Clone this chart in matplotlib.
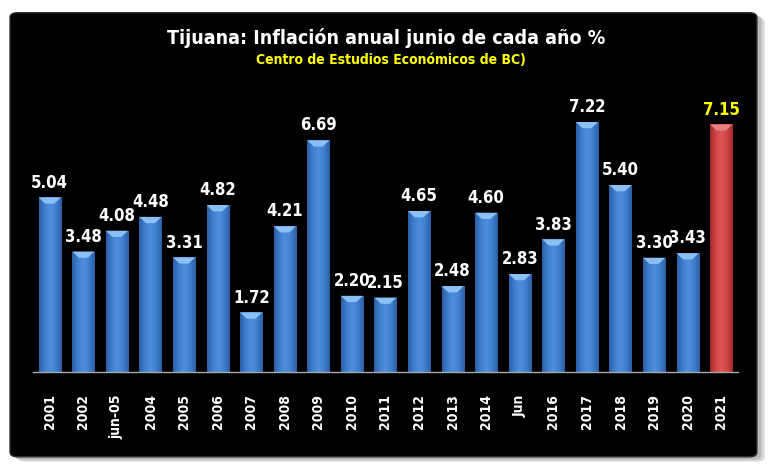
import numpy as np
import matplotlib
matplotlib.use('Agg')
import matplotlib.pyplot as plt
from matplotlib.patches import FancyBboxPatch, Polygon
from matplotlib.colors import LinearSegmentedColormap

# data
labels = ['2001', '2002', 'jun-05', '2004', '2005', '2006', '2007', '2008', '2009', '2010', '2011',
          '2012', '2013', '2014', 'Jun', '2016', '2017', '2018', '2019', '2020', '2021']
values = [5.04, 3.48, 4.08, 4.48, 3.31, 4.82, 1.72, 4.21, 6.69, 2.20, 2.15,
          4.65, 2.48, 4.60, 2.83, 3.83, 7.22, 5.40, 3.30, 3.43, 7.15]
highlight = '2021'

plt.rcParams['font.family'] = ['DejaVu Sans']
plt.rcParams['font.stretch'] = 'condensed'

fig = plt.figure(figsize=(7.7, 4.7), dpi=100)
fig.patch.set_facecolor('white')

# dark rounded panel with a soft shadow
for off, col in [(0.010, '#d8d8d8'), (0.006, '#b8b8b8')]:
    fig.patches.append(FancyBboxPatch((0.013 + off, 0.028 - off), 0.970, 0.945,
                                      boxstyle='round,pad=0,rounding_size=0.01',
                                      transform=fig.transFigure, facecolor=col,
                                      edgecolor='none', zorder=-2))
fig.patches.append(FancyBboxPatch((0.013, 0.028), 0.970, 0.945,
                                  boxstyle='round,pad=0,rounding_size=0.01',
                                  transform=fig.transFigure, facecolor='black',
                                  edgecolor='#303030', linewidth=1, zorder=-1))

ax = fig.add_axes([33 / 770, 98 / 470, 705 / 770, 277 / 470])
ax.set_facecolor('none')
ax.set_zorder(2)

x = np.arange(len(values))
width = 0.66
blue = LinearSegmentedColormap.from_list('b', ['#2c5fa6', '#3f7fd0', '#4d8ede', '#3f7fd0', '#2c5fa6'])
red = LinearSegmentedColormap.from_list('r', ['#a32a2a', '#d24646', '#de5656', '#d24646', '#a32a2a'])
grad = np.linspace(0, 1, 64).reshape(1, -1)

bars = ax.bar(x, values, width=width, color='none', edgecolor='none', zorder=2)
for lab, b, v in zip(labels, bars, values):
    cmap = red if lab == highlight else blue
    x0 = b.get_x()
    im = ax.imshow(grad, cmap=cmap, aspect='auto', extent=(x0, x0 + width, 0, v), zorder=2)
    im.set_clip_path(b)
    # lighter bevel at the top of each bar
    top = '#e88080' if lab == highlight else '#8cc0f5'
    ax.add_patch(Polygon([(x0, v), (x0 + width, v), (x0 + width * 0.7, v - 0.18), (x0 + width * 0.3, v - 0.18)],
                         closed=True, facecolor=top, edgecolor='none', zorder=3))
    ax.text(b.get_x() + width / 2, v + 0.17, f'{v:.2f}', ha='center', va='bottom',
            color='#ffff00' if lab == highlight else 'white', fontsize=12, fontweight='bold', zorder=4)

ax.set_xlim(-0.5, len(values) - 0.5)
ax.set_ylim(0, 8)
ax.set_xticks(x)
ax.set_xticklabels(labels, rotation=90, color='white', fontsize=10, fontweight='bold')
ax.tick_params(axis='x', length=0, pad=16)
ax.set_yticks([])
for s in ['top', 'right', 'left']:
    ax.spines[s].set_visible(False)
ax.spines['bottom'].set_color('#a8a8a8')
ax.spines['bottom'].set_linewidth(1)

fig.text(0.502, 0.919, 'Tijuana: Inflación anual junio de cada año %', ha='center', va='center',
         color='white', fontsize=14, fontweight='bold')
fig.text(0.508, 0.872, 'Centro de Estudios Económicos de BC)', ha='center', va='center',
         color='#ffff00', fontsize=10, fontweight='bold')

fig.savefig('out.png', dpi=100, facecolor=fig.get_facecolor())
